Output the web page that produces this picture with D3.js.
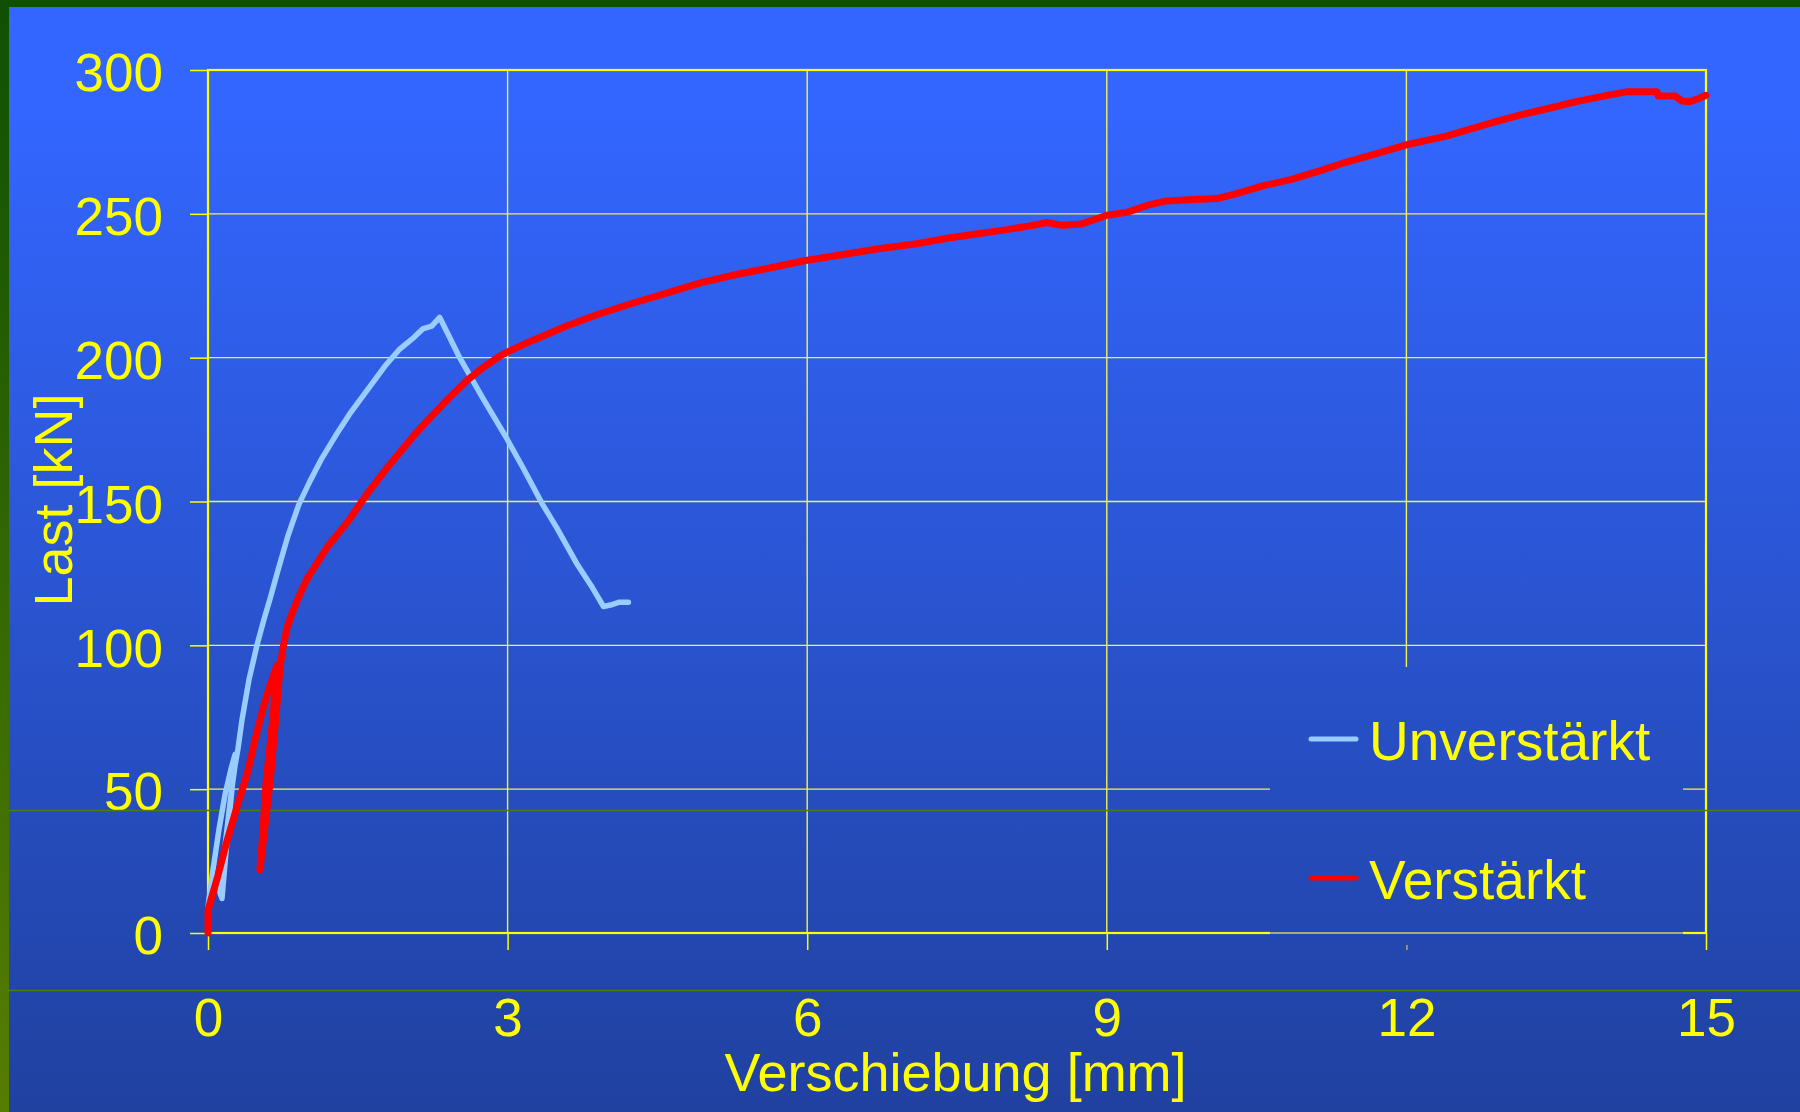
<!DOCTYPE html>
<html>
<head>
<meta charset="utf-8">
<script src="https://cdn.jsdelivr.net/npm/d3@7"></script>
<style>
html,body{margin:0;padding:0;background:#2a52d0;}
svg{display:block;}
text{font-family:"Liberation Sans",Arial,sans-serif;fill:#ffff00;}
</style>
</head>
<body>
<script>
// ---------- data ----------
const xTicks = [0, 3, 6, 9, 12, 15];
const yTicks = [0, 50, 100, 150, 200, 250, 300];
const xTitle = "Verschiebung [mm]";
const yTitle = "Last [kN]";
const seriesNames = ["Unverstärkt", "Verstärkt"];
const seriesColors = ["#99ccff", "#ff0000"];

// Unverstärkt (displacement mm, load kN)
const unverX = [0, 0.05, 0.11, 0.17, 0.23, 0.27, 0.24, 0.20, 0.16, 0.14, 0.12, 0.15, 0.19, 0.23, 0.27, 0.30, 0.34, 0.41, 0.49, 0.56, 0.62, 0.70, 0.80, 0.91, 1.02, 1.14, 1.28, 1.43, 1.60, 1.77, 1.92, 2.06, 2.15, 2.24, 2.32, 2.42, 2.52, 2.75, 2.99, 3.15, 3.35, 3.49, 3.70, 3.85, 3.96, 4.03, 4.12, 4.21];
const unverY = [9, 22, 36, 48, 57, 62, 50, 36, 20, 12, 14, 24, 36, 48, 58, 64, 74, 88, 100, 109, 116, 126, 138, 149, 157, 165, 173, 181, 189, 197, 203, 207, 210, 211, 214, 207, 200, 186, 172, 162, 149, 141, 128, 120, 113.5, 114, 115, 115];

// Verstärkt (displacement mm, load kN)
const verX = [0, 0, 0.10, 0.19, 0.30, 0.39, 0.47, 0.55, 0.62, 0.69, 0.65, 0.58, 0.55, 0.52, 0.54, 0.58, 0.62, 0.68, 0.72, 0.75, 0.79, 0.84, 0.91, 0.99, 1.10, 1.19, 1.40, 1.60, 1.80, 1.92, 2.10, 2.25, 2.40, 2.59, 2.75, 2.92, 3.00, 3.25, 3.59, 3.90, 4.26, 4.60, 4.93, 5.30, 5.60, 5.97, 6.30, 6.70, 7.11, 7.40, 7.69, 8.00, 8.26, 8.40, 8.55, 8.75, 9.00, 9.20, 9.41, 9.60, 9.87, 10.10, 10.30, 10.56, 10.85, 11.14, 11.40, 11.71, 12.00, 12.40, 12.86, 13.10, 13.44, 13.70, 14.01, 14.20, 14.51, 14.52, 14.69, 14.76, 14.84, 14.92, 15.00];
const verY = [0, 8, 20, 32, 45, 55, 67, 78, 86, 93, 75, 52, 35, 22, 28, 40, 52, 75, 92, 99, 106, 111, 117, 123, 129, 134, 143, 153, 162, 167, 174.5, 180, 185.5, 192, 196.5, 200.5, 202, 206, 211, 215, 219, 222.5, 226, 229, 231, 233.7, 235.5, 237.8, 239.7, 241.5, 243, 244.5, 246, 247, 246, 246.5, 249.5, 250.5, 253, 254.5, 255, 255.3, 257, 259.7, 262, 265, 268, 271, 274, 277, 281.7, 284, 286.8, 289, 291.2, 292.4, 292.4, 291, 291, 289.2, 289, 290, 291.2];

// ---------- layout ----------
const W = 1800, H = 1112;
const svg = d3.select("body").append("svg").attr("width", W).attr("height", H);
const defs = svg.append("defs");

const bg = defs.append("linearGradient").attr("id", "bg")
  .attr("gradientUnits", "userSpaceOnUse").attr("x1", 0).attr("y1", 0).attr("x2", 0).attr("y2", H);
bg.append("stop").attr("offset", "0").attr("stop-color", "#3366ff");
bg.append("stop").attr("offset", "0.1").attr("stop-color", "#3366ff");
bg.append("stop").attr("offset", "1").attr("stop-color", "#2041a0");

const gb = defs.append("linearGradient").attr("id", "gb")
  .attr("x1", 0).attr("y1", 0).attr("x2", 0).attr("y2", 1);
gb.append("stop").attr("offset", "0").attr("stop-color", "#0f5000");
gb.append("stop").attr("offset", "1").attr("stop-color", "#567d00");

svg.append("rect").attr("width", W).attr("height", H).attr("fill", "url(#bg)");

const x = d3.scaleLinear().domain([0, 15]).range([208, 1706]);
const y = d3.scaleLinear().domain([0, 300]).range([933, 70]);

// gridlines
const grid = svg.append("g");
grid.selectAll(".hg").data(yTicks.slice(1, -1)).join("line")
  .attr("x1", x(0)).attr("x2", x(15)).attr("y1", d => y(d)).attr("y2", d => y(d))
  .attr("stroke", "#f2f250").attr("stroke-width", 1.4);
grid.selectAll(".vg").data(xTicks.slice(1, -1)).join("line")
  .attr("y1", y(0)).attr("y2", y(300)).attr("x1", d => x(d)).attr("x2", d => x(d))
  .attr("stroke", "#f2f250").attr("stroke-width", 1.4);

// axes with ticks
const yAxis = svg.append("g").attr("transform", `translate(${x(0)},0)`)
  .call(d3.axisLeft(y).tickValues(yTicks).tickSize(18).tickPadding(27));
yAxis.select(".domain").remove();
yAxis.selectAll(".tick line").attr("stroke", "#ffff00").attr("stroke-width", 1.5);
yAxis.selectAll(".tick text").attr("fill", "#ffff00").attr("font-size", 53)
  .attr("font-family", "Liberation Sans, Arial, sans-serif").attr("dy", "0.39em");

const xAxis = svg.append("g").attr("transform", `translate(0,${y(0)})`)
  .call(d3.axisBottom(x).tickValues(xTicks).tickSize(17));
xAxis.select(".domain").remove();
xAxis.selectAll(".tick line").attr("stroke", d => d === 12 ? "#a8ab7a" : "#ffff00").attr("stroke-width", 1.5);
xAxis.selectAll(".tick text").attr("fill", "#ffff00").attr("font-size", 53)
  .attr("font-family", "Liberation Sans, Arial, sans-serif").attr("y", 103).attr("dy", 0);

// plot frame
svg.append("rect").attr("x", x(0)).attr("y", y(300))
  .attr("width", x(15) - x(0)).attr("height", y(0) - y(300))
  .attr("fill", "none").attr("stroke", "#ffff00").attr("stroke-width", 2.2);

// legend box (background coloured, hides the grid)
const lgX0 = 1270, lgX1 = 1683, lgY0 = 667, lgY1 = 945;
svg.append("rect").attr("x", lgX0).attr("y", lgY0).attr("width", lgX1 - lgX0).attr("height", lgY1 - lgY0)
  .attr("fill", "url(#bg)");
svg.append("line").attr("x1", lgX0).attr("x2", lgX1).attr("y1", y(0)).attr("y2", y(0))
  .attr("stroke", "#a8ab7a").attr("stroke-width", 2);

// slide master decoration lines
svg.selectAll(".gl").data([810.5, 990.5]).join("line")
  .attr("x1", 9).attr("x2", W).attr("y1", d => d).attr("y2", d => d)
  .attr("stroke", "#4f7a08").attr("stroke-width", 1.3);

// borders
svg.append("rect").attr("x", 0).attr("y", 0).attr("width", 9).attr("height", H).attr("fill", "url(#gb)");
svg.append("rect").attr("x", 0).attr("y", 0).attr("width", W).attr("height", 7).attr("fill", "#0f5000");

// curves
const line = d3.line().x(d => x(d[0])).y(d => y(d[1]));
const unverData = unverX.map((v, i) => [v, unverY[i]]);
const verData = verX.map((v, i) => [v, verY[i]]);
svg.append("path").datum(unverData).attr("d", line)
  .attr("fill", "none").attr("stroke", seriesColors[0]).attr("stroke-width", 5.5)
  .attr("stroke-linejoin", "round").attr("stroke-linecap", "round");
svg.append("path").datum(verData).attr("d", line)
  .attr("fill", "none").attr("stroke", seriesColors[1]).attr("stroke-width", 7)
  .attr("stroke-linejoin", "round").attr("stroke-linecap", "round");

// axis titles
svg.append("text").attr("x", 955.5).attr("y", 1091).attr("text-anchor", "middle")
  .attr("font-size", 54).text(xTitle);
svg.append("text").attr("transform", "translate(72,500) rotate(-90)").attr("text-anchor", "middle")
  .attr("font-size", 54).text(yTitle);

// legend content
const legY = [739, 878];
const leg = svg.append("g");
seriesNames.forEach((name, i) => {
  leg.append("line").attr("x1", 1311).attr("x2", 1356).attr("y1", legY[i]).attr("y2", legY[i])
    .attr("stroke", seriesColors[i]).attr("stroke-width", 5).attr("stroke-linecap", "round");
  leg.append("text").attr("x", 1369).attr("y", legY[i] + 21).attr("font-size", 55).text(name);
});
</script>
</body>
</html>
